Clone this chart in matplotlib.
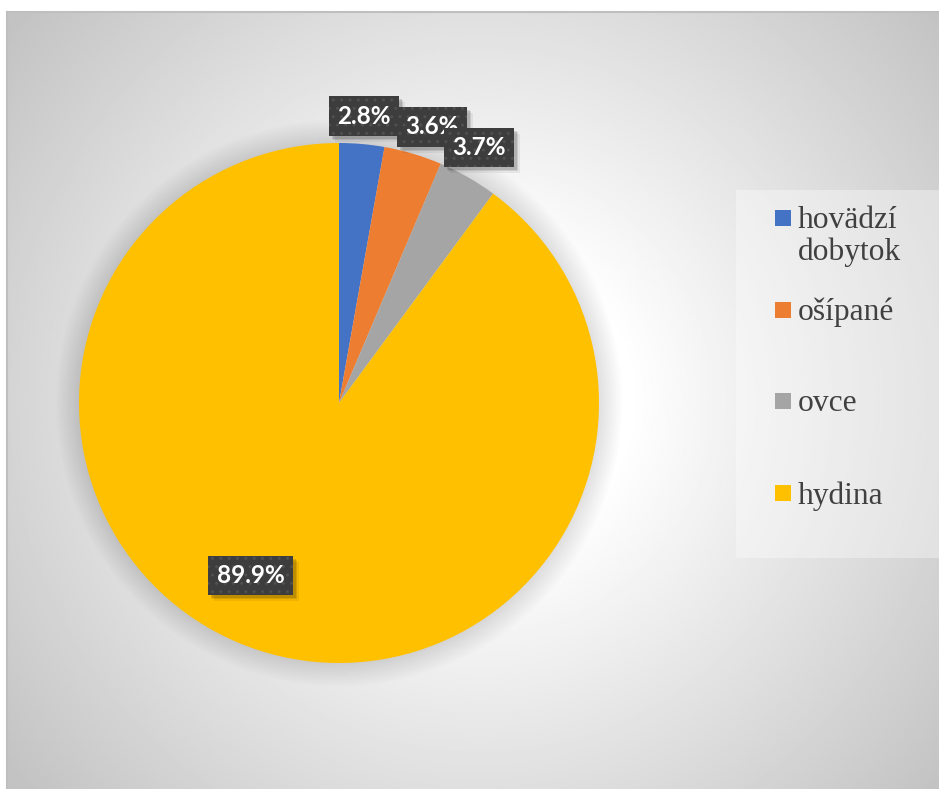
import numpy as np
import matplotlib.pyplot as plt
from matplotlib.patches import Rectangle, Circle
from matplotlib.transforms import IdentityTransform

# podiel jednotlivých druhov hospodárskych zvierat (%)
categories = ['hovädzí\ndobytok', 'ošípané', 'ovce', 'hydina']
shares = [2.8, 3.6, 3.7, 89.9]
colors = ['#4472C4', '#ED7D31', '#A5A5A5', '#FFC000']

W, H = 939, 789
fig = plt.figure(figsize=(W / 100, H / 100), dpi=100)
fig.patch.set_facecolor('white')

# pozadie grafu - radiálny prechod od bielej do sivej
bg = fig.add_axes([7 / W, 0, 1 - 7 / W, (H - 12) / H])
xs = np.linspace(7, W, 400)
ys = np.linspace(12, H, 400)
X, Y = np.meshgrid(xs, ys)
d = np.hypot(X - 480, Y - 400)
t = np.clip((d - 150) / (600 - 150), 0, 1)
g = 1 - t * (1 - 0.765)
bg.imshow(g, cmap='gray', vmin=0, vmax=1, extent=[7, W, H, 12], aspect='auto')
bg.set_xticks([])
bg.set_yticks([])
for side in ['right', 'bottom']:
    bg.spines[side].set_visible(False)
for side in ['top', 'left']:
    bg.spines[side].set_color('#bfbfbf')
    bg.spines[side].set_linewidth(1.5)

# koláčový graf
ax = fig.add_axes([79 / W, (H - 663) / H, 520 / W, 520 / H])

wedges, _ = ax.pie(shares, colors=colors, startangle=90, counterclock=False,
                   radius=1, wedgeprops=dict(linewidth=0))
for w in wedges:
    w.set_clip_on(False)
    w.set_zorder(2)
ax.set_xlim(-1, 1)
ax.set_ylim(-1, 1)
ax.axis('off')

# jemný tieň okolo koláča
for r in np.linspace(1.0, 1.09, 16):
    ax.add_patch(Circle((0, 0), r, color='black', alpha=0.008, lw=0,
                        clip_on=False, zorder=0))

# popisky s percentami
label_r = [1.108, 1.12, 1.12, 0.745]
label_shift = [0, -2, 1, -9]
labels = []
for w, v, rr, sh in zip(wedges, shares, label_r, label_shift):
    ang = np.deg2rad((w.theta1 + w.theta2) / 2 + sh)
    txt = ax.text(rr * np.cos(ang), rr * np.sin(ang), f'{v:.1f}%',
                  ha='center', va='center', fontsize=17.5, fontweight='bold',
                  family=['Lato', 'DejaVu Sans'], color='white', zorder=5,
                  bbox=dict(boxstyle='square,pad=0.34', fc='#3d3d3d',
                            ec='#505050', lw=0, hatch='..'))
    labels.append(txt)

# tiene pod rámčekmi popiskov
fig.canvas.draw()
for txt in labels:
    bb = txt.get_bbox_patch().get_window_extent()
    for k, a in [(6, 0.06), (4, 0.1), (3, 0.12)]:
        ax.add_patch(Rectangle((bb.x0 + k, bb.y0 - k), bb.width, bb.height,
                               transform=IdentityTransform(), fc='black',
                               alpha=a, lw=0, zorder=4, clip_on=False))

# legenda
fig.add_artist(Rectangle((736 / W, (H - 558) / H), (W - 736) / W, (558 - 190) / H,
                         transform=fig.transFigure, fc='white', alpha=0.35,
                         ec='none', zorder=1))
for i, (lab, col) in enumerate(zip(categories, colors)):
    yc = 218 + i * 91.7
    fig.add_artist(Rectangle((775 / W, (H - yc - 8) / H), 16 / W, 16 / H,
                             transform=fig.transFigure, fc=col, ec='none', zorder=3))
    fig.text(798 / W, (H - yc + 12) / H, lab, ha='left', va='top',
             fontsize=22.7, family='Liberation Serif', color='#404040',
             linespacing=1.13, zorder=3)

fig.savefig('out.png', dpi=100)
